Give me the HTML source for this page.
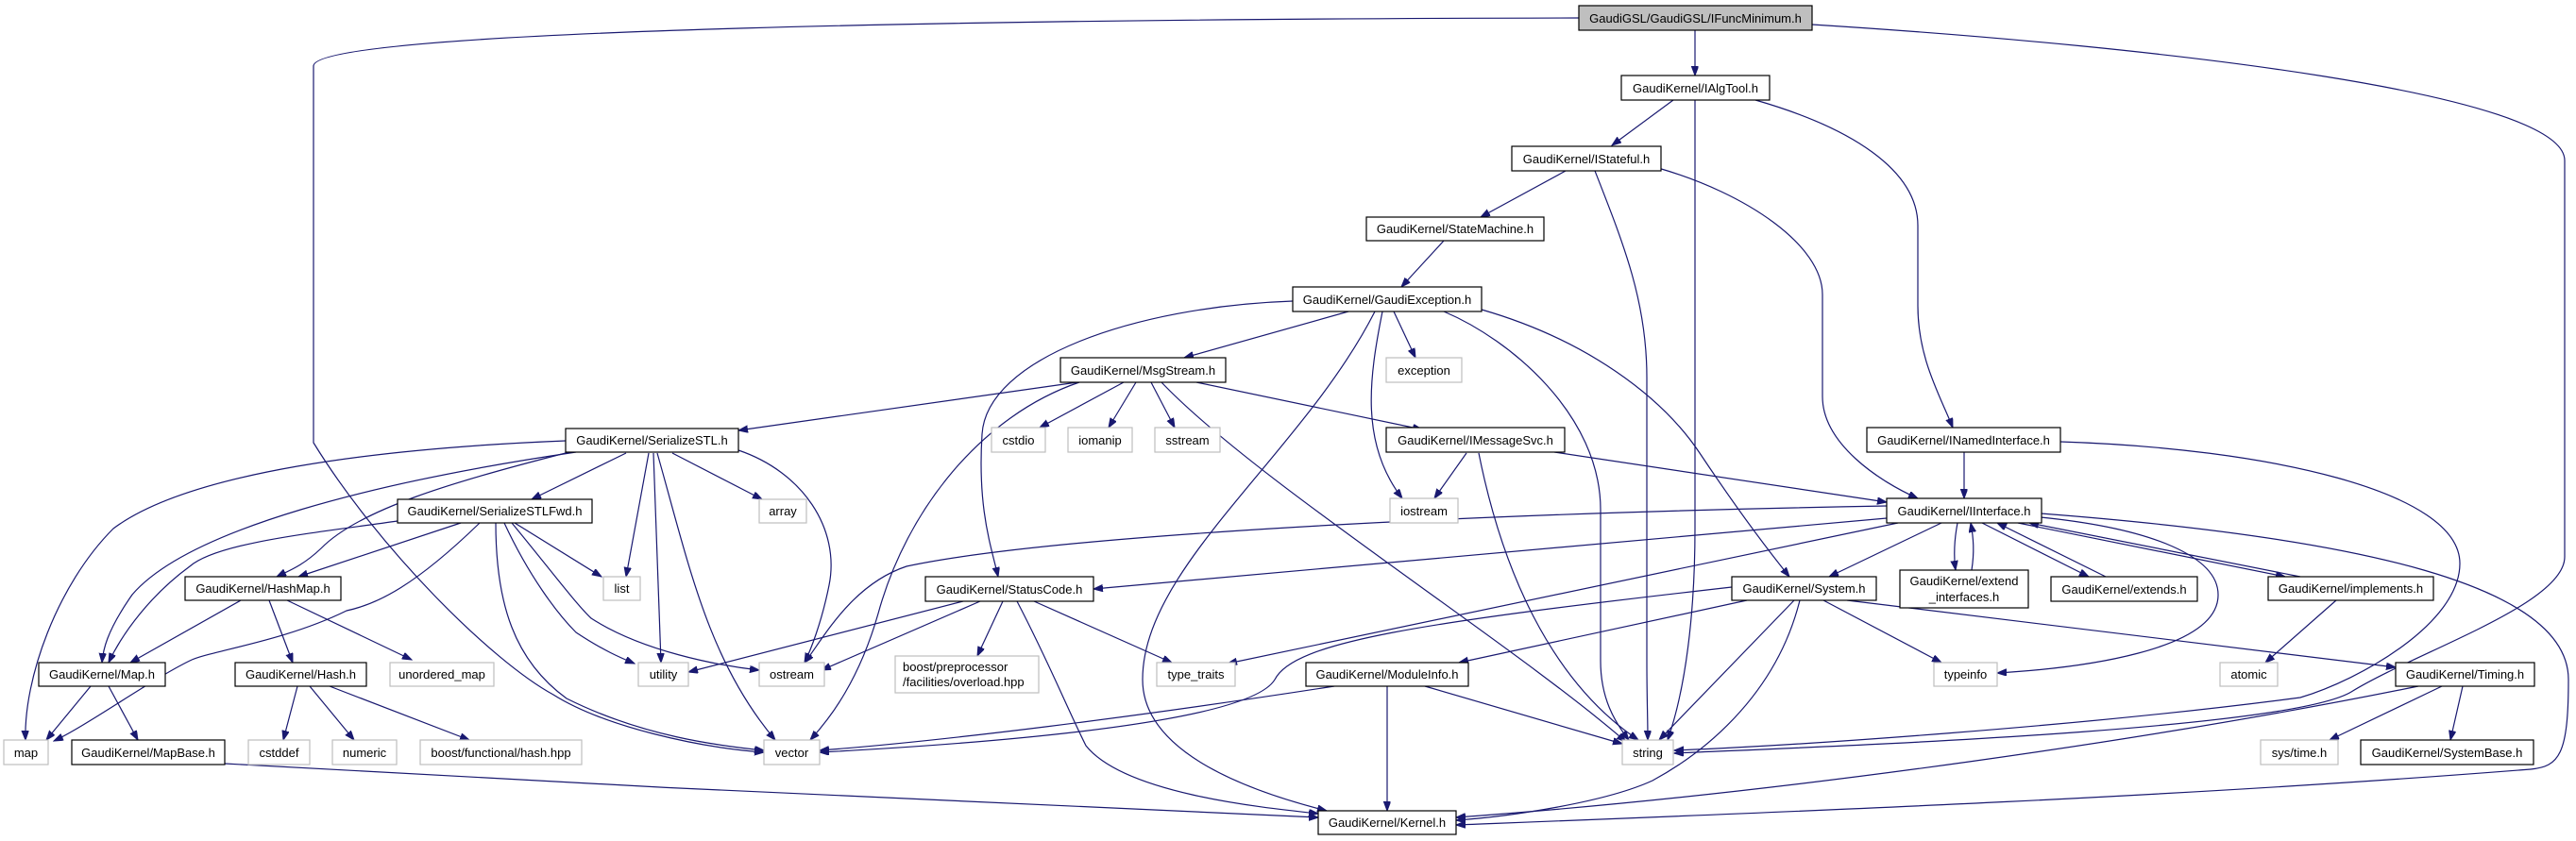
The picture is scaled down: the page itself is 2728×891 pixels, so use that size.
<!DOCTYPE html>
<html><head><meta charset="utf-8"><style>
html,body{margin:0;padding:0;background:#fff;}
svg{display:block;}
text{font-family:"Liberation Sans",Arial,sans-serif;font-size:13px;fill:#000;}
.e{fill:none;stroke:#191970;stroke-width:1.2;marker-end:url(#a);}
.n{fill:#fff;stroke:#000;stroke-width:1.2;}
.x{fill:#fff;stroke:#bfbfbf;stroke-width:1.2;}
</style></head><body>
<svg width="2728" height="891" viewBox="0 0 2728 891" xmlns="http://www.w3.org/2000/svg">
<defs><marker id="a" markerUnits="userSpaceOnUse" markerWidth="11" markerHeight="8" refX="10" refY="3.7" orient="auto"><path d="M0,0 L10,3.7 L0,7.4 z" fill="#191970" stroke="#191970"/></marker></defs>
<g>
<path class="e" d="M1795,32 L1795,80"/>
<path class="e" d="M1672,19 C1100,20 332,30 332,70 L332,469 C400,580 520,700 586,736 C640,770 740,792 809,797"/>
<path class="e" d="M1919,26 C2300,50 2716,100 2716,170 L2716,590 C2716,640 2560,690 2490,733 C2420,775 1900,792 1773,798"/>
<path class="e" d="M1772,106 L1707,154"/>
<path class="e" d="M1795,106 L1795,560 C1795,650 1785,730 1766,784"/>
<path class="e" d="M1859,106 C1960,135 2031,180 2031,239 L2031,324 C2031,380 2055,420 2068,453"/>
<path class="e" d="M1658,181 L1568,230"/>
<path class="e" d="M1689,181 C1720,260 1744,320 1744,400 L1744,700 C1744,740 1745,760 1745,784"/>
<path class="e" d="M1756,178 C1850,205 1930,260 1930,312 L1930,420 C1930,470 1990,510 2031,528"/>
<path class="e" d="M1529,255 L1484,304"/>
<path class="e" d="M1428,330 L1254,379"/>
<path class="e" d="M1476,330 L1499,379"/>
<path class="e" d="M1369,319 C1200,325 1045,380 1040,460 C1035,540 1050,580 1057,611"/>
<path class="e" d="M1456,330 C1380,480 1210,600 1210,720 C1210,800 1330,840 1405,859"/>
<path class="e" d="M1464,330 C1450,400 1440,470 1485,528"/>
<path class="e" d="M1529,330 C1600,360 1695,440 1695,540 L1695,700 C1695,740 1710,765 1725,784"/>
<path class="e" d="M1569,328 C1680,360 1760,420 1800,480 C1840,540 1870,580 1895,611"/>
<path class="e" d="M1141,405 L782,456"/>
<path class="e" d="M1190,405 L1101,453"/>
<path class="e" d="M1203,405 L1174,453"/>
<path class="e" d="M1219,405 L1244,453"/>
<path class="e" d="M1267,405 L1506,455"/>
<path class="e" d="M1230,405 C1330,510 1600,680 1722,786"/>
<path class="e" d="M1143,405 C1040,440 960,540 930,650 C910,720 880,760 858,784"/>
<path class="e" d="M1553,480 L1519,528"/>
<path class="e" d="M1566,480 C1590,600 1640,720 1735,784"/>
<path class="e" d="M1646,479 L1998,532"/>
<path class="e" d="M2080,479 L2080,528"/>
<path class="e" d="M2182,468 C2400,475 2605,520 2605,597 C2605,660 2500,720 2436,739 C2200,770 1900,790 1773,795"/>
<path class="e" d="M1998,536 C1500,545 1100,570 960,600 C900,620 870,680 852,702"/>
<path class="e" d="M1998,549 L1158,624"/>
<path class="e" d="M2010,554 L1300,703"/>
<path class="e" d="M2056,554 L1937,611"/>
<path class="e" d="M2073,554 C2069,575 2069,590 2071,604"/>
<path class="e" d="M2088,604 C2091,585 2090,570 2087,554"/>
<path class="e" d="M2099,554 L2212,611"/>
<path class="e" d="M2230,611 L2115,554"/>
<path class="e" d="M2137,554 L2420,611"/>
<path class="e" d="M2436,611 L2149,554"/>
<path class="e" d="M2161,548 C2280,560 2350,590 2349,631 C2348,690 2200,708 2115,713"/>
<path class="e" d="M2161,544 C2500,570 2720,620 2720,720 C2720,800 2710,812 2680,815 C2300,845 1900,860 1542,874"/>
<path class="e" d="M1834,622 C1500,660 1370,680 1350,720 C1320,770 1000,790 868,797"/>
<path class="e" d="M1413,727 C1200,760 1000,785 868,795"/>
<path class="e" d="M1850,636 L1545,702"/>
<path class="e" d="M1931,636 L2056,702"/>
<path class="e" d="M1900,636 L1757,784"/>
<path class="e" d="M1906,636 C1880,740 1800,800 1750,827 C1700,850 1600,865 1542,869"/>
<path class="e" d="M1956,636 L2537,707"/>
<path class="e" d="M1469,727 L1469,859"/>
<path class="e" d="M1509,727 L1718,788"/>
<path class="e" d="M2561,727 C2300,780 1900,840 1542,866"/>
<path class="e" d="M2474,636 L2399,702"/>
<path class="e" d="M2586,727 L2467,784"/>
<path class="e" d="M2608,727 L2595,784"/>
<path class="e" d="M1020,637 L729,712"/>
<path class="e" d="M1038,637 L870,710"/>
<path class="e" d="M1062,637 L1035,695"/>
<path class="e" d="M1095,637 L1241,702"/>
<path class="e" d="M1077,637 C1110,700 1130,750 1150,790 C1190,840 1330,855 1396,862"/>
<path class="e" d="M238,809 C600,830 1200,860 1396,866"/>
<path class="e" d="M599,467 C400,475 200,500 120,560 C60,620 25,720 27,784"/>
<path class="e" d="M610,479 C400,510 200,560 140,630 C112,670 109,690 108,702"/>
<path class="e" d="M603,479 C480,510 380,540 340,581 C320,600 305,605 293,611"/>
<path class="e" d="M663,480 L563,529"/>
<path class="e" d="M687,480 L663,611"/>
<path class="e" d="M692,480 L700,702"/>
<path class="e" d="M696,480 C730,600 750,700 821,784"/>
<path class="e" d="M712,480 L807,529"/>
<path class="e" d="M782,477 C850,500 890,560 878,620 C870,660 858,690 852,702"/>
<path class="e" d="M421,552 C330,565 230,575 201,600 C160,630 130,670 115,702"/>
<path class="e" d="M488,554 L316,611"/>
<path class="e" d="M508,554 C440,620 400,640 367,647 C300,680 220,690 201,700 C160,720 90,770 57,785"/>
<path class="e" d="M545,554 L637,611"/>
<path class="e" d="M534,554 C560,610 590,650 610,670 C640,690 660,698 672,703"/>
<path class="e" d="M542,554 C580,600 610,640 626,655 C680,690 760,705 804,710"/>
<path class="e" d="M525,554 C525,640 545,700 600,740 C680,780 760,790 809,795"/>
<path class="e" d="M255,636 L138,702"/>
<path class="e" d="M285,636 L310,702"/>
<path class="e" d="M304,636 L436,699"/>
<path class="e" d="M96,727 L49,784"/>
<path class="e" d="M115,727 L146,784"/>
<path class="e" d="M315,727 L300,784"/>
<path class="e" d="M328,727 L375,784"/>
<path class="e" d="M349,727 L497,784"/>
</g>
<g>
<rect x="1672" y="6" width="247" height="26" fill="#bfbfbf" stroke="#000" stroke-width="1.2"/><text x="1795.5" y="24" text-anchor="middle">GaudiGSL/GaudiGSL/IFuncMinimum.h</text>
<rect class="n" x="1717" y="80" width="157" height="26"/><text x="1795.5" y="98" text-anchor="middle">GaudiKernel/IAlgTool.h</text>
<rect class="n" x="1601" y="155" width="158" height="26"/><text x="1680" y="173" text-anchor="middle">GaudiKernel/IStateful.h</text>
<rect class="n" x="1447" y="230" width="188" height="25"/><text x="1541" y="247" text-anchor="middle">GaudiKernel/StateMachine.h</text>
<rect class="n" x="1369" y="304" width="200" height="26"/><text x="1469" y="322" text-anchor="middle">GaudiKernel/GaudiException.h</text>
<rect class="n" x="1123" y="379" width="175" height="26"/><text x="1210.5" y="397" text-anchor="middle">GaudiKernel/MsgStream.h</text>
<rect class="x" x="1468" y="379" width="80" height="26"/><text x="1508" y="397" text-anchor="middle">exception</text>
<rect class="n" x="599" y="454" width="183" height="25"/><text x="690.5" y="471" text-anchor="middle">GaudiKernel/SerializeSTL.h</text>
<rect class="x" x="1050" y="453" width="57" height="26"/><text x="1078.5" y="471" text-anchor="middle">cstdio</text>
<rect class="x" x="1131" y="453" width="68" height="26"/><text x="1165" y="471" text-anchor="middle">iomanip</text>
<rect class="x" x="1223" y="453" width="69" height="26"/><text x="1257.5" y="471" text-anchor="middle">sstream</text>
<rect class="n" x="1468" y="453" width="189" height="26"/><text x="1562.5" y="471" text-anchor="middle">GaudiKernel/IMessageSvc.h</text>
<rect class="n" x="1977" y="453" width="205" height="26"/><text x="2079.5" y="471" text-anchor="middle">GaudiKernel/INamedInterface.h</text>
<rect class="x" x="1472" y="528" width="72" height="26"/><text x="1508" y="546" text-anchor="middle">iostream</text>
<rect class="n" x="1998" y="528" width="164" height="26"/><text x="2080" y="546" text-anchor="middle">GaudiKernel/IInterface.h</text>
<rect class="n" x="421" y="529" width="206" height="25"/><text x="524" y="546" text-anchor="middle">GaudiKernel/SerializeSTLFwd.h</text>
<rect class="x" x="804" y="529" width="50" height="25"/><text x="829" y="546" text-anchor="middle">array</text>
<rect class="n" x="196" y="611" width="165" height="25"/><text x="278.5" y="628" text-anchor="middle">GaudiKernel/HashMap.h</text>
<rect class="x" x="639" y="611" width="39" height="25"/><text x="658.5" y="628" text-anchor="middle">list</text>
<rect class="n" x="980" y="611" width="178" height="26"/><text x="1069" y="629" text-anchor="middle">GaudiKernel/StatusCode.h</text>
<rect class="n" x="1834" y="611" width="153" height="25"/><text x="1910.5" y="628" text-anchor="middle">GaudiKernel/System.h</text>
<rect class="n" x="2012" y="604" width="136" height="40"/><text x="2080" y="620" text-anchor="middle">GaudiKernel/extend</text><text x="2080" y="637" text-anchor="middle">_interfaces.h</text>
<rect class="n" x="2172" y="611" width="155" height="26"/><text x="2249.5" y="629" text-anchor="middle">GaudiKernel/extends.h</text>
<rect class="n" x="2402" y="611" width="175" height="25"/><text x="2489.5" y="628" text-anchor="middle">GaudiKernel/implements.h</text>
<rect class="n" x="41" y="702" width="134" height="25"/><text x="108" y="719" text-anchor="middle">GaudiKernel/Map.h</text>
<rect class="n" x="249" y="702" width="139" height="25"/><text x="318.5" y="719" text-anchor="middle">GaudiKernel/Hash.h</text>
<rect class="x" x="413" y="702" width="110" height="25"/><text x="468" y="719" text-anchor="middle">unordered_map</text>
<rect class="x" x="676" y="702" width="53" height="25"/><text x="702.5" y="719" text-anchor="middle">utility</text>
<rect class="x" x="804" y="702" width="69" height="25"/><text x="838.5" y="719" text-anchor="middle">ostream</text>
<rect class="x" x="948" y="695" width="152" height="39"/><text x="956" y="711">boost/preprocessor</text><text x="956" y="727">/facilities/overload.hpp</text>
<rect class="x" x="1225" y="702" width="83" height="25"/><text x="1266.5" y="719" text-anchor="middle">type_traits</text>
<rect class="n" x="1383" y="702" width="172" height="25"/><text x="1469" y="719" text-anchor="middle">GaudiKernel/ModuleInfo.h</text>
<rect class="x" x="2048" y="702" width="67" height="25"/><text x="2081.5" y="719" text-anchor="middle">typeinfo</text>
<rect class="x" x="2351" y="702" width="61" height="25"/><text x="2381.5" y="719" text-anchor="middle">atomic</text>
<rect class="n" x="2537" y="702" width="147" height="25"/><text x="2610.5" y="719" text-anchor="middle">GaudiKernel/Timing.h</text>
<rect class="x" x="4" y="784" width="47" height="26"/><text x="27.5" y="802" text-anchor="middle">map</text>
<rect class="n" x="76" y="784" width="162" height="26"/><text x="157" y="802" text-anchor="middle">GaudiKernel/MapBase.h</text>
<rect class="x" x="263" y="784" width="65" height="26"/><text x="295.5" y="802" text-anchor="middle">cstddef</text>
<rect class="x" x="352" y="784" width="68" height="26"/><text x="386" y="802" text-anchor="middle">numeric</text>
<rect class="x" x="445" y="784" width="171" height="26"/><text x="530.5" y="802" text-anchor="middle">boost/functional/hash.hpp</text>
<rect class="x" x="809" y="784" width="59" height="26"/><text x="838.5" y="802" text-anchor="middle">vector</text>
<rect class="x" x="1718" y="784" width="54" height="26"/><text x="1745" y="802" text-anchor="middle">string</text>
<rect class="x" x="2394" y="784" width="82" height="26"/><text x="2435" y="802" text-anchor="middle">sys/time.h</text>
<rect class="n" x="2500" y="784" width="183" height="26"/><text x="2591.5" y="802" text-anchor="middle">GaudiKernel/SystemBase.h</text>
<rect class="n" x="1396" y="859" width="146" height="25"/><text x="1469" y="876" text-anchor="middle">GaudiKernel/Kernel.h</text>
</g>
</svg>
</body></html>
